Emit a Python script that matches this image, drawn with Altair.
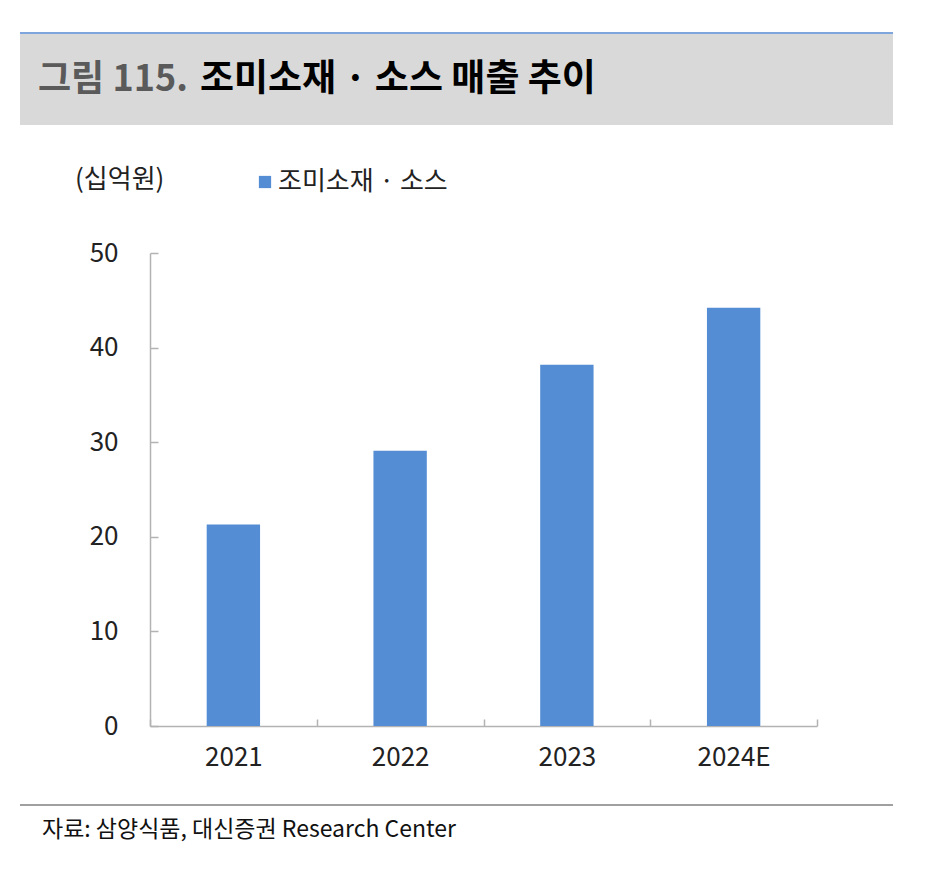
import altair as alt
import pandas as pd

years = ["2021", "2022", "2023", "2024E"]
sales = [21.3, 29.1, 38.2, 44.2]
series_name = "조미소재 · 소스"
title_prefix = "그림 115."
title_main = "조미소재 · 소스 매출 추이"
unit_label = "(십억원)"
source_text = "자료: 삼양식품, 대신증권 Research Center"
y_ticks = [0, 10, 20, 30, 40, 50]

FONT = "Noto Sans CJK KR"
W, H = 667, 473

df = pd.DataFrame({"year": years, "sales": sales, "series": [series_name] * len(years)})

bars = alt.Chart(df).mark_bar(width=alt.RelativeBandSize(0.32), color="#548DD4").encode(
    x=alt.X("year:N", sort=years, title=None,
            scale=alt.Scale(paddingInner=0, paddingOuter=0),
            axis=alt.Axis(labelAngle=0, tickBand="extent", tickSize={"expr": "-7"},
                          labelPadding=25, labelFontSize=26, labelFont=FONT,
                          labelColor="#222222", domainColor="#B3B3B3", tickColor="#B3B3B3",
                          domainWidth=1.5, tickWidth=1.5)),
    y=alt.Y("sales:Q", title=None,
            scale=alt.Scale(domain=[0, 50], nice=False),
            axis=alt.Axis(values=y_ticks, tickSize={"expr": "-8"}, labelPadding=40,
                          labelFontSize=26, labelFont=FONT, labelColor="#222222",
                          domainColor="#B3B3B3", tickColor="#B3B3B3", grid=False,
                          domainWidth=1.5, tickWidth=1.5)),
    color=alt.Color("series:N", scale=alt.Scale(range=["#548DD4"]),
                    legend=alt.Legend(title=None, orient="none", legendX=102, legendY=-84,
                                      symbolType="square", symbolSize=150, symbolStrokeWidth=0,
                                      labelFontSize=26, labelFont=FONT, labelColor="#222222",
                                      labelLimit=500, padding=0, labelOffset=0)),
)

one = pd.DataFrame({"k": [0]})

header = alt.Chart(one).mark_rect(color="#D9D9D9").encode(
    x=alt.value(-130), x2=alt.value(743), y=alt.value(-219), y2=alt.value(-128))
header_line = alt.Chart(one).mark_rule(color="#7FA6DC", strokeWidth=2).encode(
    x=alt.value(-130), x2=alt.value(743), y=alt.value(-220))

t1 = alt.Chart(pd.DataFrame({"t": [title_prefix]})).mark_text(
    font=FONT, fontSize=36, fontWeight="bold", color="#5A5A5A", align="left", baseline="middle"
).encode(x=alt.value(-112), y=alt.value(-173), text="t:N")
t2 = alt.Chart(pd.DataFrame({"t": [title_main]})).mark_text(
    font=FONT, fontSize=37, fontWeight="bold", color="#000000", align="left", baseline="middle"
).encode(x=alt.value(50), y=alt.value(-173), text="t:N")

unit = alt.Chart(pd.DataFrame({"t": [unit_label]})).mark_text(
    font=FONT, fontSize=26, color="#222222", align="left", baseline="middle"
).encode(x=alt.value(-75), y=alt.value(-73), text="t:N")

footer_line = alt.Chart(one).mark_rule(color="#A0A0A0", strokeWidth=2).encode(
    x=alt.value(-130), x2=alt.value(743), y=alt.value(552))
footer = alt.Chart(pd.DataFrame({"t": [source_text]})).mark_text(
    font=FONT, fontSize=23, color="#111111", align="left", baseline="middle"
).encode(x=alt.value(-108), y=alt.value(577), text="t:N")

chart = alt.layer(header, header_line, t1, t2, unit, bars, footer_line, footer).properties(
    width=W, height=H,
    padding={"left": 142, "top": 245, "right": 100, "bottom": 140},
    autosize=alt.AutoSizeParams(type="none"),
    background="white",
).configure_view(strokeWidth=0)

chart.save("out.html", embed_options={"renderer": "svg", "actions": False})
